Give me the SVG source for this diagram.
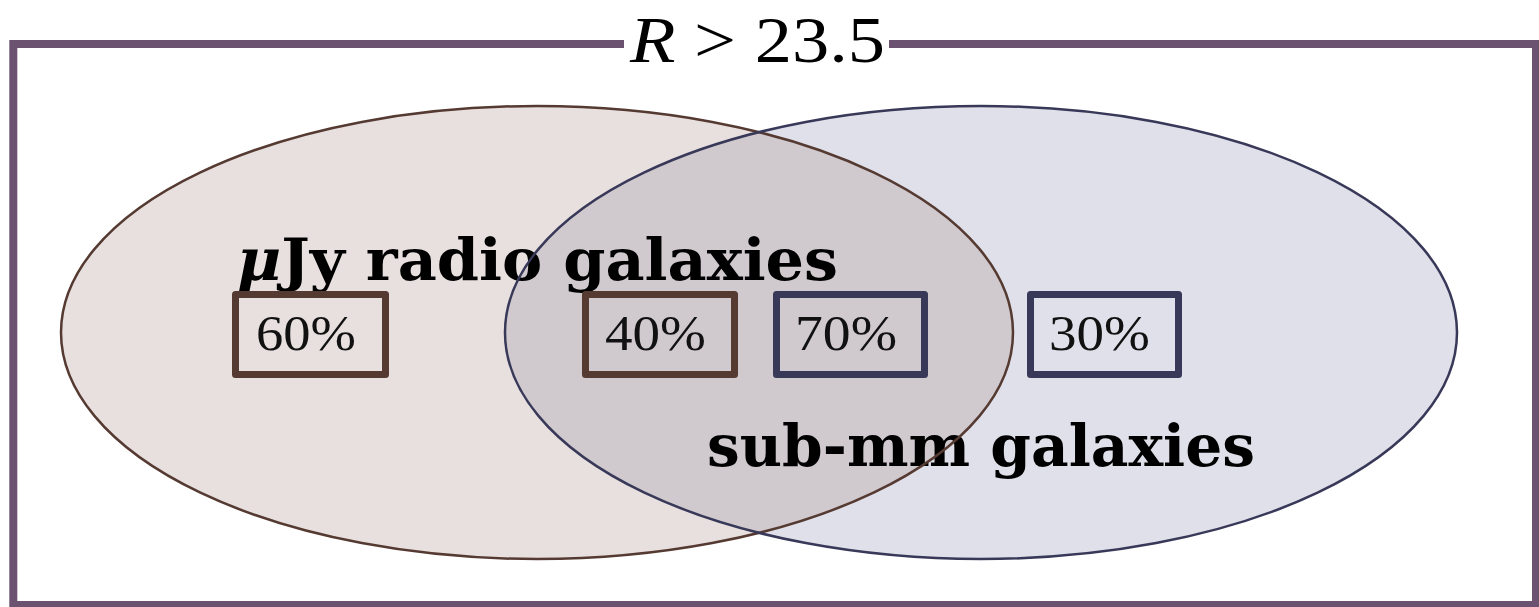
<svg xmlns="http://www.w3.org/2000/svg" width="1539" height="607" viewBox="0 0 1539 607">
<style>
.frame{fill:none;stroke:#6a5270;stroke-width:8}
.lbl{font-family:"DejaVu Serif","Liberation Serif",serif;font-weight:bold;font-size:58px;fill:#000}
.pct{font-family:"Liberation Serif","DejaVu Serif",serif;font-size:50px;fill:#111}
.boxr{fill:none;stroke:#553a32;stroke-width:7;stroke-linejoin:round}
.boxb{fill:none;stroke:#383858;stroke-width:7;stroke-linejoin:round}
.title{font-family:"Liberation Serif","DejaVu Serif",serif;font-size:66px;fill:#000}
</style>
<defs>
<clipPath id="clipB"><ellipse cx="981" cy="332.5" rx="476" ry="226.5"/></clipPath>
</defs>
<rect width="1539" height="607" fill="#fff"/>
<g id="frame">
<rect class="frame" x="13.3" y="44" width="1522.7" height="561"/>
<rect x="624" y="28" width="265" height="34" fill="#fff"/>
<text class="title" x="630" y="62" textLength="255" lengthAdjust="spacingAndGlyphs"><tspan font-style="italic">R</tspan> &gt; 23.5</text>
</g>
<g id="fills">
<ellipse cx="981" cy="332.5" rx="476" ry="226.5" fill="#e0e0ea"/>
<ellipse cx="537" cy="332.5" rx="476" ry="226.5" fill="#e8e0df"/>
<ellipse cx="537" cy="332.5" rx="476" ry="226.5" fill="#d0c9ce" clip-path="url(#clipB)"/>
</g>
<g id="labels">
<text class="lbl" x="237" y="280" textLength="601" lengthAdjust="spacingAndGlyphs"><tspan font-style="italic">μ</tspan>Jy radio galaxies</text>
<text class="lbl" x="707" y="466" textLength="548" lengthAdjust="spacingAndGlyphs">sub-mm galaxies</text>
</g>
<g id="outlines">
<ellipse cx="537" cy="332.5" rx="476" ry="226.5" fill="none" stroke="#553a32" stroke-width="2.5"/>
<ellipse cx="981" cy="332.5" rx="476" ry="226.5" fill="none" stroke="#383858" stroke-width="2.5"/>
</g>
<g id="box60">
<rect class="boxr" x="235.5" y="294.5" width="150" height="80"/>
<text class="pct" x="256" y="350" textLength="100" lengthAdjust="spacingAndGlyphs">60%</text>
</g>
<g id="box40">
<rect class="boxr" x="585.5" y="294.5" width="149" height="80"/>
<text class="pct" x="605" y="350" textLength="101" lengthAdjust="spacingAndGlyphs">40%</text>
</g>
<g id="box70">
<rect class="boxb" x="776.5" y="294.5" width="148" height="80"/>
<text class="pct" x="795" y="350" textLength="102" lengthAdjust="spacingAndGlyphs">70%</text>
</g>
<g id="box30">
<rect class="boxb" x="1030.5" y="294.5" width="148" height="80"/>
<text class="pct" x="1049" y="350" textLength="101" lengthAdjust="spacingAndGlyphs">30%</text>
</g>
<g id="connectors"/>
</svg>
